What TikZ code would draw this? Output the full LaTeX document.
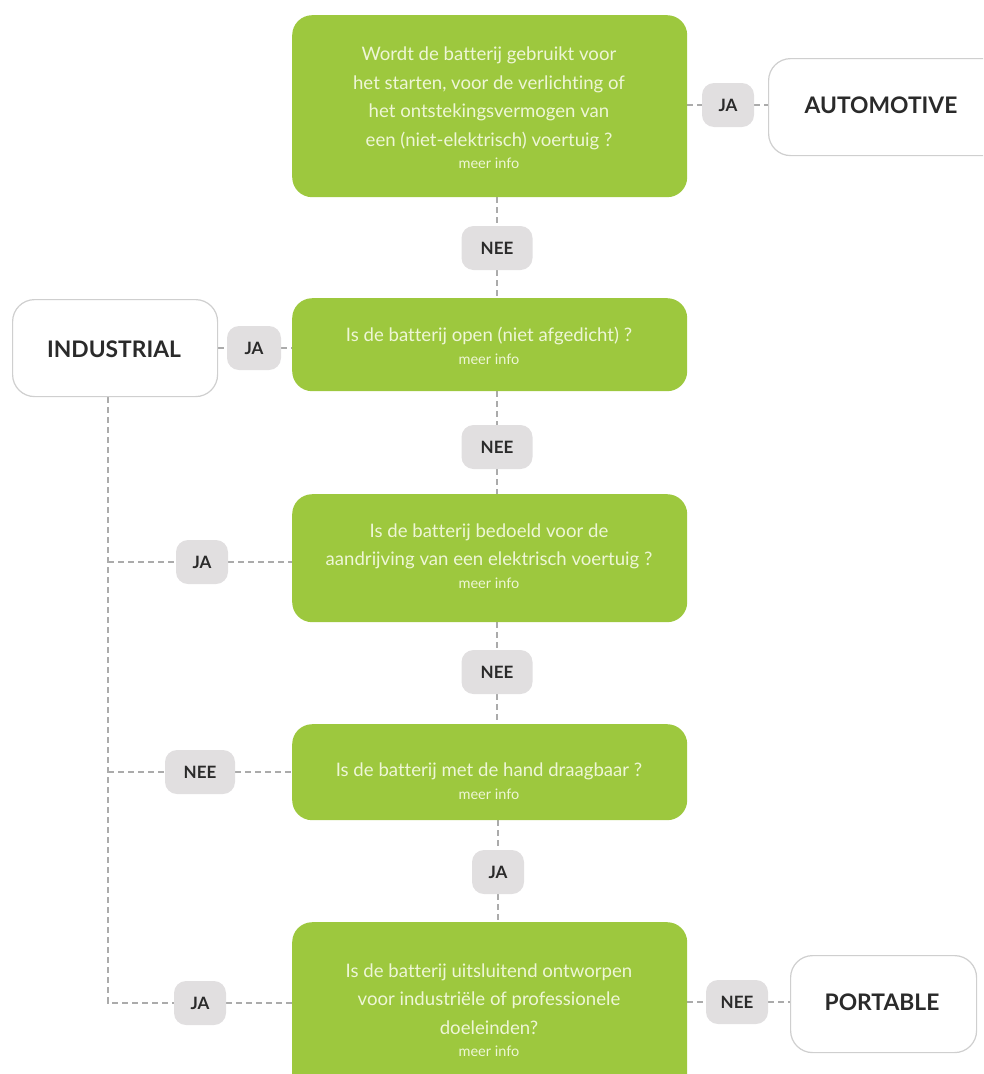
\documentclass[tikz,border=0pt]{standalone}
\usepackage{fontspec}
\setmainfont{Lato}[Ligatures=NoCommon]
\usetikzlibrary{backgrounds,calc}
\definecolor{boxgreen}{HTML}{9DC83E}
\definecolor{boxtext}{HTML}{EEF6D6}
\definecolor{lblgray}{HTML}{E1DFE0}
\definecolor{lbltext}{HTML}{2A2A2A}
\definecolor{bordergray}{HTML}{CFCFCF}
\definecolor{dashgray}{HTML}{ABABAB}
\tikzset{
  x=1pt,y=-1pt,
  qbox/.style={fill=boxgreen,draw=none,rounded corners=20pt,inner sep=0pt,anchor=north west},
  qtext/.style={text=boxtext,align=center,font=\fontsize{18.6}{28.5}\selectfont},
  endbox/.style={draw=bordergray,line width=1.2pt,fill=white,rounded corners=22pt,inner sep=0pt,anchor=north west},
  endtext/.style={text=lbltext,font=\fontsize{22.8}{26}\selectfont\bfseries},
  lbl/.style={fill=lblgray,rounded corners=12pt,text=lbltext,font=\fontsize{17}{18}\selectfont\bfseries,minimum height=44pt,inner sep=0pt},
  conn/.style={draw=dashgray,line width=1.3pt,dash pattern=on 6pt off 4pt},
}
\newcommand{\minfo}{\\[-6pt]{\fontsize{14.5}{16}\selectfont meer info}}
\begin{document}
\begin{tikzpicture}
\useasboundingbox (0,0) rectangle (983,1074);
\begin{scope}
\clip (0,0) rectangle (983,1074);
% green question boxes
\node[qbox,minimum width=395pt,minimum height=182pt] (q1) at (292,15) {};
\node[qbox,minimum width=395pt,minimum height=93pt] (q2) at (292,298) {};
\node[qbox,minimum width=395pt,minimum height=128pt] (q3) at (292,494) {};
\node[qbox,minimum width=395pt,minimum height=96pt] (q4) at (292,724) {};
\node[qbox,minimum width=395pt,minimum height=178pt] (q5) at (292,922) {};
% end boxes
\node[endbox,minimum width=240pt,minimum height=97pt] (auto) at (768,58) {};
\node[endbox,minimum width=205pt,minimum height=97pt] (ind) at (12,299) {};
\node[endbox,minimum width=186pt,minimum height=97pt] (port) at (790,955) {};
\end{scope}
% texts
\node[qtext] (t1) at (489,108) {Wordt de batterij gebruikt voor\\het starten, voor de verlichting of\\het ontstekingsvermogen van\\een (niet-elektrisch) voertuig ?\minfo};
\node[qtext] (t2) at (489,346) {Is de batterij open (niet afgedicht) ?\minfo};
\node[qtext] (t3) at (489,556) {Is de batterij bedoeld voor de\\aandrijving van een elektrisch voertuig ?\minfo};
\node[qtext] (t4) at (489,781) {Is de batterij met de hand draagbaar ?\minfo};
\node[qtext] (t5) at (489,1010) {Is de batterij uitsluitend ontworpen\\voor industriële of professionele\\doeleinden?\minfo};
\node[endtext] (ta) at (881,105) {AUTOMOTIVE};
\node[endtext] (ti) at (114,349) {INDUSTRIAL};
\node[endtext] (tp) at (882,1002) {PORTABLE};
% labels
\node[lbl,minimum width=52pt] (ja1) at (728,105) {JA};
\node[lbl,minimum width=71pt] (nee1) at (497,248) {NEE};
\node[lbl,minimum width=54pt] (ja2) at (254,348) {JA};
\node[lbl,minimum width=71pt] (nee2) at (497,447) {NEE};
\node[lbl,minimum width=52pt] (ja3) at (202,562) {JA};
\node[lbl,minimum width=71pt] (nee3) at (497,672) {NEE};
\node[lbl,minimum width=70pt] (nee4) at (200,772) {NEE};
\node[lbl,minimum width=52pt] (ja4) at (498,872) {JA};
\node[lbl,minimum width=52pt] (ja5) at (200,1003) {JA};
\node[lbl,minimum width=62pt] (nee5) at (737,1002) {NEE};
\coordinate (lx) at (108,0);
\coordinate (cb) at (108,1003);
\begin{scope}[on background layer]
\draw[conn] (q1.east |- ja1) -- (ja1) -- (auto.west |- ja1);
\draw[conn] (nee1 |- q1.south) -- (nee1) -- (nee1 |- q2.north);
\draw[conn] (ind.east |- ja2) -- (ja2) -- (q2.west |- ja2);
\draw[conn] (nee2 |- q2.south) -- (nee2) -- (nee2 |- q3.north);
\draw[conn] (lx |- ind.south) -- (cb) -- (ja5) -- (q5.west |- ja5);
\draw[conn] (lx |- ja3) -- (ja3) -- (q3.west |- ja3);
\draw[conn] (nee3 |- q3.south) -- (nee3) -- (nee3 |- q4.north);
\draw[conn] (lx |- nee4) -- (nee4) -- (q4.west |- nee4);
\draw[conn] (ja4 |- q4.south) -- (ja4) -- (ja4 |- q5.north);
\draw[conn] (q5.east |- nee5) -- (nee5) -- (port.west |- nee5);
\end{scope}
\end{tikzpicture}
\end{document}
